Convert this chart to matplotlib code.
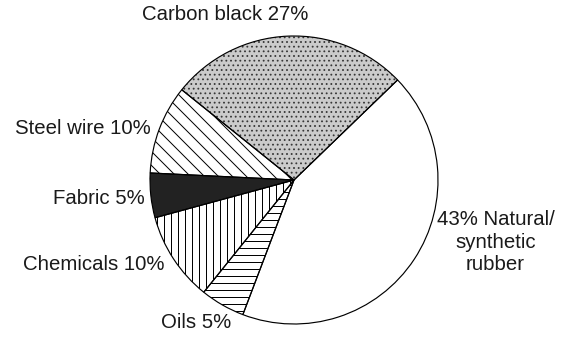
import matplotlib
matplotlib.use("Agg")
import matplotlib.pyplot as plt

# Tyre composition by weight (%), listed counter-clockwise from the top-right
materials = ["Carbon black", "Steel wire", "Fabric", "Chemicals", "Oils",
             "Natural/synthetic rubber"]
shares = [27, 10, 5, 10, 5, 43]

# Fill styles for each material
face_colors = ["#cbcbcb", "white", "#222222", "white", "white", "white"]
hatch_colors = ["#383838", "black", "#222222", "black", "black", "black"]
hatches = ["...", "\\\\", "", "||", "--", ""]

W, H, DPI = 588, 360, 84
plt.rcParams["font.family"] = ["Liberation Sans", "DejaVu Sans"]
plt.rcParams["hatch.linewidth"] = 0.85

fig = plt.figure(figsize=(W / DPI, H / DPI), dpi=DPI)
ax = fig.add_axes([0, 0, 1, 1])

CX, CY, R = 306, 200, 155  # pie centre and radius in pixels


def at(px, py):
    """Convert a pixel position (origin top-left) into data coordinates."""
    return (px - CX) / R, (CY - py) / R


ax.set_xlim(-CX / R, (W - CX) / R)
ax.set_ylim((CY - H) / R, CY / R)
ax.set_aspect("equal")
ax.axis("off")

# Filled, hatched wedges (edge colour drives the hatch colour)
wedges, _ = ax.pie(shares, colors=face_colors, hatch=hatches, startangle=44,
                   counterclock=True, radius=1.0,
                   wedgeprops=dict(linewidth=0))
for w, hc in zip(wedges, hatch_colors):
    w.set_edgecolor(hc)
    w.set_linewidth(0)

# Black outlines on top
ax.pie(shares, startangle=44, counterclock=True, radius=1.0,
       wedgeprops=dict(fill=False, edgecolor="black", linewidth=1.0))

fs = 17.5
txt = dict(fontsize=fs, color="#1a1a1a", va="baseline")
ax.text(*at(232, 28), f"{materials[0]} {shares[0]}%", ha="center", **txt)
ax.text(*at(152, 150), f"{materials[1]} {shares[1]}%", ha="right", **txt)
ax.text(*at(145, 226), f"{materials[2]} {shares[2]}%", ha="right", **txt)
ax.text(*at(167, 297), f"{materials[3]} {shares[3]}%", ha="right", **txt)
ax.text(*at(201, 359), f"{materials[4]} {shares[4]}%", ha="center", **txt)
ax.text(*at(523, 248), f"{shares[5]}% Natural/", ha="center", **txt)
ax.text(*at(523, 273), "synthetic", ha="center", **txt)
ax.text(*at(523, 297), "rubber", ha="center", **txt)

fig.savefig("out.png", dpi=DPI)
